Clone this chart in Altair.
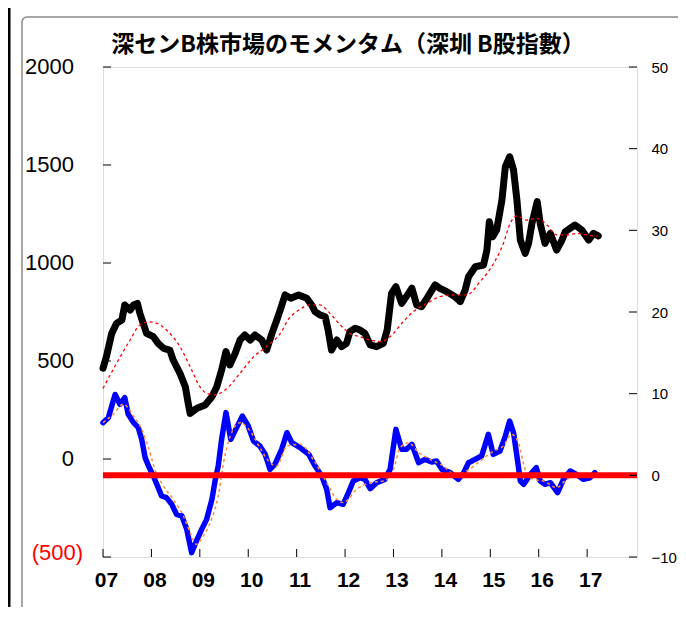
import altair as alt
import pandas as pd

TITLE = "深センB株市場のモメンタム（深圳 B股指數）"

# x positions are decimal years
YEAR_TICKS = [2007, 2008, 2009, 2010, 2011, 2012, 2013, 2014, 2015, 2016, 2017]
LEFT_TICKS = [2000, 1500, 1000, 500, 0, -500]
RIGHT_TICKS = [50, 40, 30, 20, 10, 0, -10]

# Shenzhen B-share index (left axis)
idx_t = [2007.00, 2007.07, 2007.18, 2007.28, 2007.39, 2007.45, 2007.56, 2007.63, 2007.71, 2007.76,
         2007.83, 2007.90, 2008.04, 2008.14, 2008.25, 2008.38, 2008.45, 2008.59, 2008.70, 2008.76,
         2008.80, 2008.94, 2009.11, 2009.25, 2009.35, 2009.45, 2009.54, 2009.62, 2009.73, 2009.83,
         2009.93, 2010.04, 2010.14, 2010.28, 2010.38, 2010.49, 2010.59, 2010.66, 2010.76, 2010.88,
         2011.04, 2011.21, 2011.31, 2011.38, 2011.48, 2011.59, 2011.65, 2011.72, 2011.83, 2011.93,
         2012.03, 2012.10, 2012.21, 2012.31, 2012.41, 2012.52, 2012.65, 2012.79, 2012.87, 2012.96,
         2013.05, 2013.17, 2013.31, 2013.38, 2013.48, 2013.58, 2013.69, 2013.86, 2013.96, 2014.10,
         2014.27, 2014.38, 2014.48, 2014.55, 2014.69, 2014.86, 2014.93, 2014.98, 2015.05, 2015.13,
         2015.24, 2015.31, 2015.40, 2015.48, 2015.55, 2015.62, 2015.72, 2015.79, 2015.86, 2015.97,
         2016.03, 2016.13, 2016.24, 2016.37, 2016.48, 2016.55, 2016.75, 2016.89, 2017.03, 2017.13,
         2017.23]
idx_v = [463, 522, 641, 692, 709, 786, 760, 786, 794, 745,
         692, 641, 624, 590, 565, 556, 505, 437, 369, 284,
         233, 259, 276, 318, 369, 454, 548, 480, 539, 607,
         633, 607, 633, 607, 556, 641, 709, 760, 837, 820,
         837, 820, 786, 752, 735, 726, 658, 556, 607, 573,
         590, 650, 667, 658, 641, 582, 573, 590, 658, 845,
         879, 794, 845, 871, 786, 777, 820, 888, 871, 854,
         828, 803, 862, 930, 981, 990, 1066, 1211, 1134, 1168,
         1321, 1491, 1542, 1474, 1321, 1117, 1049, 1100, 1202, 1313,
         1202, 1100, 1151, 1066, 1117, 1160, 1194, 1168, 1117, 1151,
         1138]

# moving average of the index (left axis)
ma_t = [2007.00, 2007.28, 2007.56, 2007.76, 2007.97, 2008.18, 2008.38, 2008.59, 2008.80, 2009.00,
        2009.14, 2009.31, 2009.56, 2009.83, 2010.11, 2010.38, 2010.66, 2010.85, 2011.00, 2011.28,
        2011.48, 2011.69, 2011.90, 2012.10, 2012.31, 2012.52, 2012.73, 2012.93, 2013.20, 2013.41,
        2013.69, 2013.96, 2014.24, 2014.51, 2014.79, 2015.07, 2015.27, 2015.41, 2015.55, 2015.75,
        2015.96, 2016.17, 2016.37, 2016.58, 2016.79, 2016.99, 2017.20]
ma_v = [360, 488, 607, 684, 700, 684, 641, 573, 471, 369,
        335, 327, 360, 437, 522, 573, 640, 720, 752, 786,
        786, 743, 684, 641, 624, 607, 599, 624, 700, 752,
        794, 828, 837, 837, 905, 998, 1100, 1202, 1240, 1219,
        1228, 1194, 1143, 1143, 1151, 1143, 1138]

# momentum (right axis)
mom_t = [2007.00, 2007.11, 2007.25, 2007.35, 2007.45, 2007.52, 2007.63, 2007.73, 2007.80, 2007.87,
         2007.94, 2008.04, 2008.14, 2008.21, 2008.31, 2008.42, 2008.52, 2008.63, 2008.73, 2008.83,
         2008.93, 2009.04, 2009.14, 2009.25, 2009.32, 2009.38, 2009.45, 2009.54, 2009.64, 2009.76,
         2009.88, 2010.00, 2010.11, 2010.24, 2010.35, 2010.45, 2010.55, 2010.69, 2010.80, 2010.90,
         2011.07, 2011.25, 2011.38, 2011.52, 2011.62, 2011.69, 2011.83, 2011.96, 2012.07, 2012.17,
         2012.31, 2012.41, 2012.52, 2012.65, 2012.82, 2012.93, 2013.05, 2013.17, 2013.27, 2013.38,
         2013.52, 2013.65, 2013.79, 2013.89, 2014.00, 2014.17, 2014.34, 2014.45, 2014.55, 2014.69,
         2014.82, 2014.96, 2015.06, 2015.20, 2015.31, 2015.40, 2015.48, 2015.55, 2015.62, 2015.69,
         2015.83, 2015.95, 2016.03, 2016.13, 2016.24, 2016.39, 2016.51, 2016.65, 2016.78, 2016.92,
         2017.06, 2017.16]
mom_v = [6.45, 7.06, 9.9, 8.7, 9.5, 7.5, 6.45, 5.84, 4.4, 2.17,
         1.14, -0.08, -1.5, -2.53, -2.73, -3.55, -4.78, -4.98, -6.6, -9.47,
         -8.04, -6.6, -5.39, -2.94, -0.49, 1.14, 4.4, 7.68, 4.4, 5.84,
         7.26, 6.04, 4.2, 3.59, 2.57, 0.73, 1.35, 3.18, 5.22, 4.0,
         3.39, 2.57, 1.14, -0.08, -1.71, -3.96, -3.34, -3.55, -2.12, -0.69,
         -0.29, -0.49, -1.63, -0.9, -0.49, 0.73, 5.63, 3.18, 3.18, 3.8,
         1.55, 1.96, 1.63, 1.75, 0.73, 0.33, -0.49, 0.33, 1.55, 1.96,
         2.36, 5.02, 2.57, 2.98, 4.81, 6.65, 5.22, 2.36, -0.69, -1.1,
         0.12, 0.94, -0.69, -1.1, -0.9, -2.12, -0.49, 0.53, 0.12, -0.49,
         -0.29, 0.33]

# moving average of momentum (right axis)
mma_t = [2007.00, 2007.21, 2007.42, 2007.63, 2007.80, 2007.94, 2008.07, 2008.25, 2008.45, 2008.66,
         2008.80, 2008.93, 2009.07, 2009.24, 2009.38, 2009.49, 2009.63, 2009.83, 2010.04, 2010.24,
         2010.45, 2010.59, 2010.80, 2011.07, 2011.34, 2011.62, 2011.83, 2011.96, 2012.24, 2012.52,
         2012.79, 2013.00, 2013.14, 2013.31, 2013.52, 2013.76, 2014.03, 2014.27, 2014.51, 2014.79,
         2015.07, 2015.27, 2015.44, 2015.58, 2015.72, 2015.89, 2016.10, 2016.37, 2016.58, 2016.79,
         2017.06]
mma_v = [6.45, 7.47, 8.7, 7.26, 5.63, 3.39, 0.73, -1.31, -2.94, -4.98,
         -7.0, -8.45, -7.43, -5.39, -2.53, 1.55, 4.81, 6.45, 5.42, 3.39,
         1.55, 1.14, 3.59, 3.8, 1.96, -0.9, -2.94, -3.34, -1.71, -0.9,
         -0.69, 0.73, 3.39, 4.0, 2.78, 1.96, 1.14, 0.12, 0.53, 1.75,
         2.98, 3.59, 5.02, 4.0, 0.73, -0.49, -0.69, -1.5, -0.49, -0.08,
         -0.08]

ZERO = [0]

W, H = 534, 490
NUMFONT = "Liberation Sans"

x_scale = alt.Scale(domain=[2007, 2018.03], nice=False, zero=False)
l_scale = alt.Scale(domain=[-500, 2000], nice=False, zero=False)
r_scale = alt.Scale(domain=[-10, 50], nice=False, zero=False)

x_axis = alt.Axis(values=YEAR_TICKS, format="d", labelExpr="substring(datum.label, 2)",
                  tickSize=0, domain=False, grid=False, title=None, labelFlush=False,
                  labelFont=NUMFONT, labelFontSize=21, labelFontWeight="bold",
                  labelColor="black", labelPadding=12, labelOffset=3)
r_axis = alt.Axis(values=RIGHT_TICKS, orient="right", tickSize=0, domain=False, grid=False,
                  title=None, labelFont=NUMFONT, labelFontSize=15, labelColor="black",
                  labelPadding=14)

X = alt.X("t:Q", scale=x_scale, axis=x_axis)
YL = alt.Y("v:Q", scale=l_scale, axis=None)

df_idx = pd.DataFrame({"t": idx_t, "v": idx_v})
df_ma = pd.DataFrame({"t": ma_t, "v": ma_v})
df_mom = pd.DataFrame({"t": mom_t, "m": mom_v})
df_mma = pd.DataFrame({"t": mma_t, "m": mma_v})
df_lt = pd.DataFrame({"v": LEFT_TICKS})

idx_line = alt.Chart(df_idx).mark_line(color="black", strokeWidth=7, strokeJoin="round",
                                       strokeCap="round").encode(x=X, y=YL)
ma_line = alt.Chart(df_ma).mark_line(color="#ff0000", strokeWidth=1.3, strokeDash=[3, 3],
                                     interpolate="monotone").encode(x=X, y=YL)
l_ticks = alt.Chart(df_lt).mark_rule(color="black", strokeWidth=1).encode(
    y=YL, x=alt.value(0), x2=alt.value(8))
# left axis labels; negatives in accounting style, red
l_pos = alt.Chart(df_lt).transform_filter("datum.v >= 0").transform_calculate(
    lab="format(datum.v, 'd')").mark_text(
    align="right", baseline="middle", font=NUMFONT, fontSize=22, color="black").encode(
    y=YL, x=alt.value(-29), text="lab:N")
l_neg = alt.Chart(df_lt).transform_filter("datum.v < 0").transform_calculate(
    lab="'(' + format(-datum.v, 'd') + ')'").mark_text(
    align="right", baseline="middle", font=NUMFONT, fontSize=22, color="#ff0000", dy=-4).encode(
    y=YL, x=alt.value(-20), text="lab:N")
x_ticks = alt.Chart(pd.DataFrame({"t": YEAR_TICKS})).mark_rule(color="black", strokeWidth=1).encode(
    x=X, y=alt.value(H), y2=alt.value(H - 8))

left = alt.layer(idx_line, ma_line, l_ticks, l_pos, l_neg, x_ticks)

YR = alt.Y("m:Q", scale=r_scale, axis=r_axis)
mom_line = alt.Chart(df_mom).mark_line(color="#0000ff", strokeWidth=5.5, strokeJoin="round",
                                       strokeCap="round").encode(x=X, y=YR)
mma_line = alt.Chart(df_mma).mark_line(color="#ff8c3a", strokeWidth=1.5, strokeDash=[3, 3],
                                       interpolate="monotone").encode(x=X, y=YR)
zero_rule = alt.Chart(pd.DataFrame({"m": ZERO})).mark_rule(color="#ff0000", strokeWidth=6).encode(y=YR)
r_ticks = alt.Chart(pd.DataFrame({"m": RIGHT_TICKS})).mark_rule(color="black", strokeWidth=1).encode(
    y=YR, x=alt.value(W - 8), x2=alt.value(W))

right = alt.layer(mom_line, mma_line, zero_rule, r_ticks)

# decorative slide border
frame = alt.Chart(pd.DataFrame({"a": [0]})).mark_rect(
    fill=None, stroke="#8a8a8a", strokeWidth=1.5, cornerRadius=5).encode(
    x=alt.value(-81), x2=alt.value(W + 70), y=alt.value(-50), y2=alt.value(H + 57))
side = alt.Chart(pd.DataFrame({"a": [0]})).mark_rule(color="black", strokeWidth=3).encode(
    x=alt.value(-94), y=alt.value(-59), y2=alt.value(H + 59))

chart = alt.layer(frame, side, left, right).resolve_scale(y="independent").properties(
    width=W, height=H,
    autosize=alt.AutoSizeParams(type="none"),
    padding={"left": 95, "top": 59, "right": 41, "bottom": 50},
    title=alt.TitleParams(text=TITLE, font="Noto Sans CJK JP", fontSize=23, fontWeight="bold",
                          color="black", anchor="middle", dx=-22, offset=10, dy=60),
).configure_view(stroke="black", strokeWidth=1.5).configure(background="white")

chart.save("out.html", embed_options={"renderer": "svg", "actions": False})
